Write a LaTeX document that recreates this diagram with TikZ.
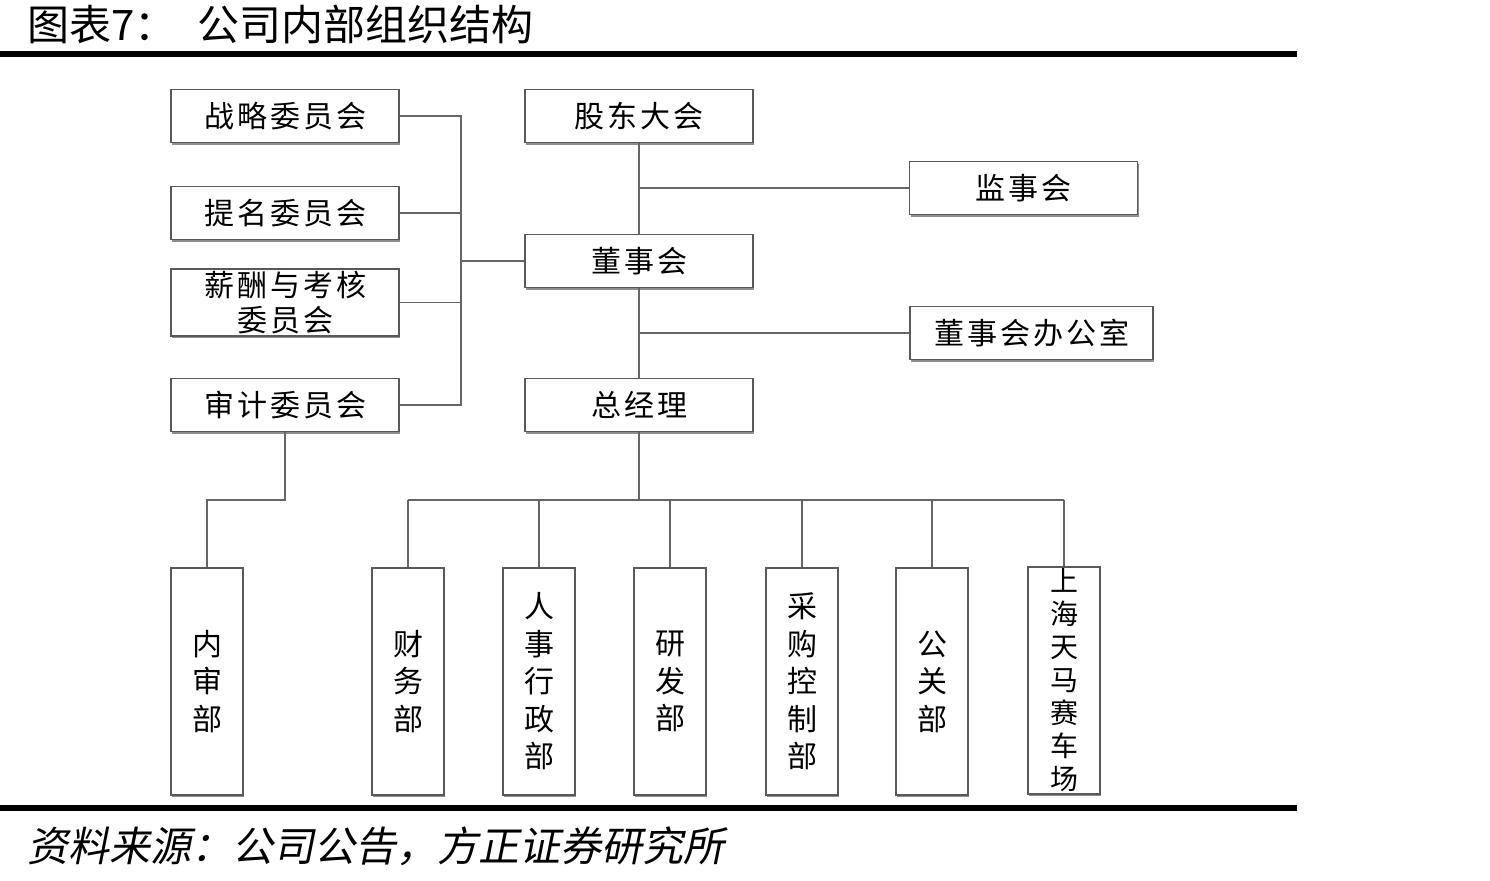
\documentclass[tikz,border=0pt]{standalone}
\usepackage{fontspec}
\newfontfamily\cjk{Noto Sans CJK SC}
\newfontfamily\cjkbox[LetterSpace=10]{Noto Sans CJK SC}
\newfontfamily\cjkslant[FakeSlant=0.2]{Noto Sans CJK SC}
\usetikzlibrary{positioning, calc, shadows}

\begin{document}
\begin{tikzpicture}[
  % one unit = one pixel of the 1490 x 881 page, y running downwards
  x=0.5pt, y=-0.5pt, font=\cjkbox\fontsize{15}{18.75}\selectfont,
  bx/.style={draw=black!65, line width=0.8pt, fill=white, inner sep=0pt, align=center,
    drop shadow={shadow xshift=0.6pt, shadow yshift=-1.1pt, fill=black!55, opacity=0.8}},
  wide/.style={bx, minimum width=114pt, minimum height=26.5pt},
  dept/.style={bx, minimum width=36pt, minimum height=113.5pt},
  ln/.style={draw=black!60, line width=0.8pt},
  rule/.style={line width=3pt},
]
\useasboundingbox (0,0) rectangle (1490,881);
% title and rules
\node[anchor=west, inner sep=0pt, font=\cjk\fontsize{21}{24}\selectfont] (title) at (27,25)
  {图表7：\hspace{0.5em}公司内部组织结构};
\draw[rule] (0,54) -- (1297,54);
\draw[rule] (0,808) -- (1297,808);
\node[anchor=west, inner sep=0pt, font=\cjkslant\fontsize{20.5}{24}\selectfont] (src) at (27,846)
  {资料来源：公司公告，方正证券研究所};
% committees
\node[wide] (zl) at (285,116) {战略委员会};
\node[wide] (tm) at (285,213) {提名委员会};
\node[wide, minimum height=33.5pt, font=\cjkbox\fontsize{15}{17.5}\selectfont] (xc) at (285,302.5) {薪酬与考核\\委员会};
\node[wide] (sj) at (285,405) {审计委员会};
% main chain
\node[wide] (gd) at (639,116) {股东大会};
\node[wide] (jsh) at (1023.5,188) {监事会};
\node[wide] (dsh) at (639,261) {董事会};
\node[wide, minimum width=121.5pt] (dban) at (1031.5,333) {董事会办公室};
\node[wide] (zjl) at (639,405) {总经理};
% departments
\node[dept] (ns) at (207,681.5) {内\\审\\部};
\node[dept] (cw) at (408,681.5) {财\\务\\部};
\node[dept] (rs) at (539,681.5) {人\\事\\行\\政\\部};
\node[dept] (yf) at (670,681.5) {研\\发\\部};
\node[dept] (cg) at (802,681.5) {采\\购\\控\\制\\部};
\node[dept] (gg) at (932,681.5) {公\\关\\部};
\node[dept, font=\cjkbox\fontsize{14}{16.5}\selectfont] (shc) at (1064,680.5) {上\\海\\天\\马\\赛\\车\\场};
% committee bus
\coordinate (cb) at (461,261);
\draw[ln] (zl.east) -| (cb) |- (sj.east);
\foreach \n in {tm,xc} \draw[ln] (\n.east) -- (\n.east -| cb);
\draw[ln] (cb) -- (dsh.west);
% chain with side branches
\draw[ln] (gd.south) -- (dsh.north);
\draw[ln] (gd.south |- jsh.west) -- (jsh.west);
\draw[ln] (dsh.south) -- (zjl.north);
\draw[ln] (dsh.south |- dban.west) -- (dban.west);
% department bus
\coordinate (db) at (639,500);
\draw[ln] (zjl.south) -- (db);
\draw[ln] (cw.north |- db) -- (shc.north |- db);
\foreach \n in {cw,rs,yf,cg,gg,shc} \draw[ln] (\n.north |- db) -- (\n.north);
\draw[ln] (sj.south) -- (sj.south |- db) -| (ns.north);
\end{tikzpicture}
\end{document}
